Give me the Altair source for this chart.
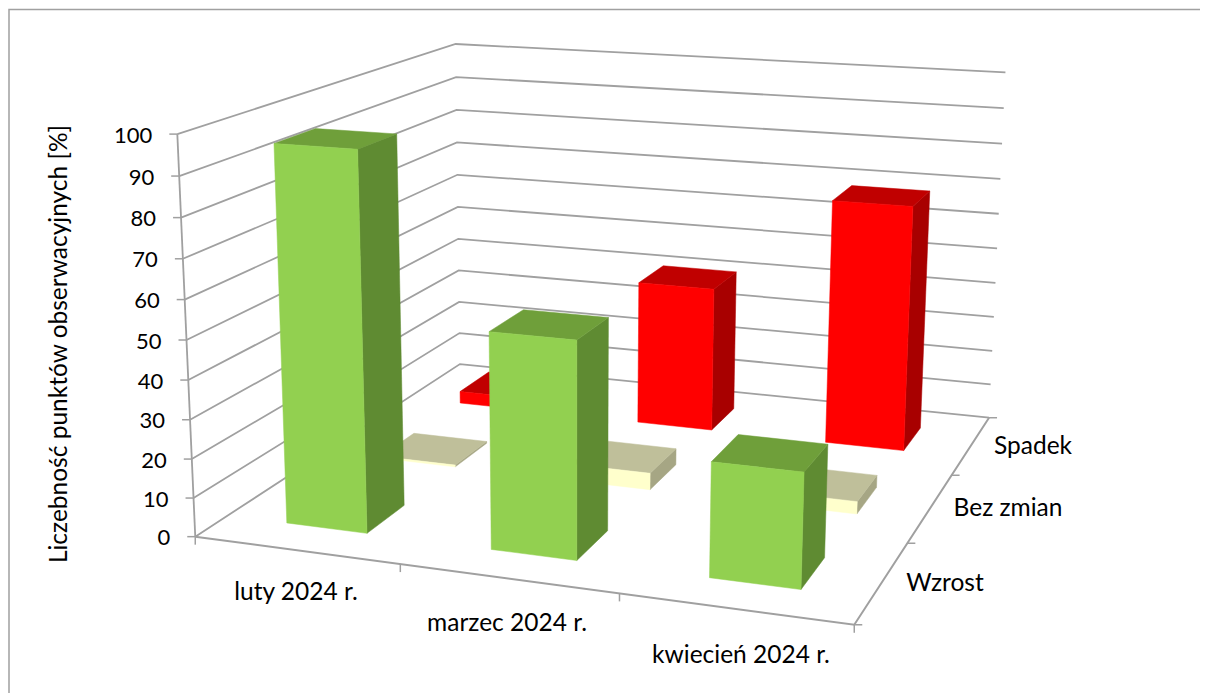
import numpy as np
import pandas as pd
import altair as alt

months = ["luty 2024 r.", "marzec 2024 r.", "kwiecień 2024 r."]
series = ["Wzrost", "Bez zmian", "Spadek"]
wzrost = [96, 54.5, 28.5]
bez_zmian = [0.5, 4.5, 3.3]
spadek = [3.5, 41, 68.5]
value_ticks = [0, 10, 20, 30, 40, 50, 60, 70, 80, 90, 100]
front_colors = ["#92D050", "#FFFFCC", "#FF0000"]
side_colors = ["#5F8B32", "#A6A684", "#A80000"]
top_colors = ["#6F9F3A", "#BFBF9A", "#C00000"]
axis_title = "Liczebność punktów obserwacyjnych [%]"

# Camera of the 3-D view, fitted to the box corners (month, series, value) -> page
anchors = [
    (0, 0, 0, 197, 536), (0, 0, 100, 177, 134), (0, 3, 0, 459, 364), (0, 3, 100, 456, 44),
    (3, 3, 0, 988, 418), (3, 3, 100, 1005, 73), (3, 0, 0, 853, 624), (1, 0, 0, 400, 566),
    (2, 0, 0, 619, 595), (3, 1, 0, 908, 542), (3, 2, 0, 953, 475), (0, 0, 50, 186, 339),
    (0, 3, 50, 458, 207), (3, 3, 50, 998, 248),
]
A, b = [], []
for X, D, Z, u, v in anchors:
    A.append([X, D, Z, 1, 0, 0, 0, 0, -u * X, -u * D, -u * Z]); b.append(u)
    A.append([0, 0, 0, 0, X, D, Z, 1, -v * X, -v * D, -v * Z]); b.append(v)
P = np.linalg.lstsq(np.array(A, float), np.array(b, float), rcond=None)[0]


def proj(X, D, Z):
    w = P[8] * X + P[9] * D + P[10] * Z + 1
    return float((P[0] * X + P[1] * D + P[2] * Z + P[3]) / w), float((P[4] * X + P[5] * D + P[6] * Z + P[7]) / w)


W, H = 1192, 685
xs = alt.Scale(domain=[8, 8 + W], range=[0, W], nice=False, zero=False)
ys = alt.Scale(domain=[8, 8 + H], range=[0, H], nice=False, zero=False)
FONT = "Lato"
FS = 24.5
FS_NUM = 22


def xy():
    return dict(x=alt.X("u:Q", scale=xs, axis=None), y=alt.Y("v:Q", scale=ys, axis=None))


def poly(pts, fill=None, stroke=None, sw=1.0):
    df = pd.DataFrame({"u": [p[0] for p in pts], "v": [p[1] for p in pts], "i": range(len(pts))})
    kw = {"strokeWidth": sw, "stroke": stroke or fill}
    if fill:
        kw["fill"] = fill
    return alt.Chart(df).mark_line(clip=False, interpolate="linear-closed" if fill else "linear", **kw).encode(
        order="i:Q", **xy())


def shape(points, fill=None, stroke=None, sw=1.0):
    return poly([proj(*p) for p in points], fill, stroke, sw)


def label(x, y, s, angle=0, align="center", size=FS):
    df = pd.DataFrame({"u": [x], "v": [y], "t": [s]})
    return alt.Chart(df).mark_text(font=FONT, fontSize=size, color="#000000", align=align, baseline="middle", angle=angle).encode(
        text="t:N", **xy())


GRID = "#A0A0A0"
layers = []
for z in value_ticks:
    layers.append(shape([(0, 0, z), (0, 3, z), (3, 3, z)], stroke=GRID, sw=1.8))
layers.append(shape([(0, 0, 0), (0, 0, 100)], stroke=GRID, sw=1.8))
layers.append(shape([(0, 0, 0), (3, 0, 0), (3, 3, 0)], stroke=GRID, sw=2))
for z in value_ticks:
    u, v = proj(0, 0, z)
    layers.append(poly([(u - 8, v), (u, v)], stroke=GRID, sw=1.5))
for X in range(4):
    u, v = proj(X, 0, 0)
    layers.append(poly([(u, v), (u, v + 8)], stroke=GRID, sw=1.5))
for D in range(4):
    u, v = proj(3, D, 0)
    layers.append(poly([(u, v), (u + 8, v)], stroke=GRID, sw=1.5))

BW, BD = 0.40, 0.40
rows = [wzrost, bez_zmian, spadek]
for j in [2, 1, 0]:
    for i in range(3):
        val = rows[j][i]
        c = 0.5 + i
        x0, x1 = c - BW / 2, c + BW / 2
        d0, d1 = j + 0.5 - BD / 2, j + 0.5 + BD / 2
        layers.append(shape([(x1, d0, 0), (x1, d1, 0), (x1, d1, val), (x1, d0, val)], side_colors[j], sw=0.5))
        layers.append(shape([(x0, d0, val), (x1, d0, val), (x1, d1, val), (x0, d1, val)], top_colors[j], sw=0.5))
        layers.append(shape([(x0, d0, 0), (x1, d0, 0), (x1, d0, val), (x0, d0, val)], front_colors[j], sw=0.5))

for z in value_ticks:
    u, v = proj(0, 0, z)
    layers.append(label(u - 25, v + 1.5, str(z), align="right", size=FS_NUM))
for s, (u, v) in zip(months, [(296, 593), (507, 624), (741, 656)]):
    layers.append(label(u, v, s))
for s, (u, v) in zip(series, [(945, 584), (1008, 509), (1033, 447)]):
    layers.append(label(u, v, s))
layers.append(label(60, 344, axis_title, angle=270))
layers.append(poly([(9, 693), (9, 9.5), (1208, 9.5)], stroke="#A0A0A0", sw=1.5))

chart = alt.layer(*layers).properties(width=W, height=H, padding=0, autosize="none", background="white").configure_view(stroke=None)
chart.save("out.html", embed_options={"renderer": "svg", "actions": False})
